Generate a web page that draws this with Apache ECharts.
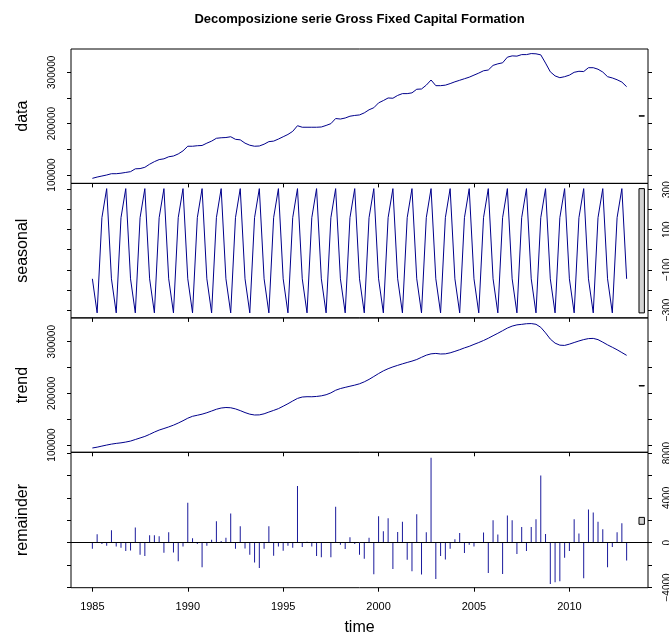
<!DOCTYPE html>
<html>
<head>
<meta charset="utf-8">
<script src="https://cdn.jsdelivr.net/npm/echarts@6/dist/echarts.min.js"></script>
<style>
  html, body { margin: 0; padding: 0; background: #fff; }
  #chart { width: 669px; height: 638px; }
</style>
</head>
<body>
<div id="chart"></div>
<script>
// Quarterly series, 1985 Q1 - 2013 Q1
const START_YEAR = 1985;
const PER_YEAR = 4;

// Observed Gross Fixed Capital Formation
const GFCF_DATA = [
  93500, 96000, 98000, 100000,
  102500, 102500, 103500, 105000,
  106500, 112000, 112500, 115000,
  121000, 126000, 130000, 131500,
  135500, 137000, 141000, 147000,
  156000, 156000, 157000, 157500,
  162000, 166000, 171500, 172500,
  173000, 174500, 169500, 168500,
  162000, 158000, 156000, 156500,
  160000, 165000, 166000, 170000,
  174500, 179000, 185000, 196000,
  193000, 193000, 193000, 193000,
  193500, 196500, 200000, 210000,
  209000, 211000, 214500, 216000,
  217000, 221000, 227000, 231000,
  240500, 245000, 250000, 249500,
  255000, 258500, 258500, 260000,
  267000, 267500, 275000, 285000,
  274000, 274000, 275000, 278000,
  281500, 284500, 287500, 290500,
  294500, 298500, 303000, 304500,
  313500, 316500, 318500, 329500,
  332000, 331500, 334500, 334500,
  336500, 336000, 334000, 318000,
  301000, 293000, 289500, 291500,
  294500, 300000, 302000, 301500,
  309000, 309000, 306000, 300500,
  291500, 289000, 285500, 281000,
  272000
];

// Seasonal component (periodic)
const SEASONAL = [
  -145, -315, 160, 305,  -145, -315, 160, 305,  -145, -315, 160, 305,  -145, -315, 160, 305,
  -145, -315, 160, 305,  -145, -315, 160, 305,  -145, -315, 160, 305,  -145, -315, 160, 305,
  -145, -315, 160, 305,  -145, -315, 160, 305,  -145, -315, 160, 305,  -145, -315, 160, 305,
  -145, -315, 160, 305,  -145, -315, 160, 305,  -145, -315, 160, 305,  -145, -315, 160, 305,
  -145, -315, 160, 305,  -145, -315, 160, 305,  -145, -315, 160, 305,  -145, -315, 160, 305,
  -145, -315, 160, 305,  -145, -315, 160, 305,  -145, -315, 160, 305,  -145, -315, 160, 305,
  -145, -315, 160, 305,  -145, -315, 160, 305,  -145, -315, 160, 305,  -145, -315, 160, 305,
  -145
];

// Trend component
const TREND = [
  94200, 95800, 97900, 99900,
  101700, 103100, 104200, 105700,
  107600, 110600, 113600, 116600,
  120600, 125000, 128900, 131900,
  135000, 138400, 142500, 147000,
  151900, 155600, 157600, 159700,
  162500, 165800, 169200, 171600,
  172600, 172100, 169900, 166600,
  162800, 159700, 158100, 158300,
  160400, 163800, 167000, 170400,
  175100, 179900, 185200, 190200,
  192900, 193500, 193400, 194000,
  195200, 197300, 200900, 206000,
  209300, 211600, 213800, 215900,
  218500, 222300, 227000, 232600,
  238300, 243500, 247700, 251200,
  254200, 257100, 259800, 262400,
  265500, 269800, 273900, 276500,
  277300, 276200, 276500, 278400,
  281300, 284500, 288000, 291000,
  294800, 298400, 302300, 306700,
  311600, 316300, 321300, 326400,
  330200, 332600, 333600, 334800,
  335100, 333700, 327800, 317100,
  305100, 297200, 293300, 292800,
  295300, 298400, 301400, 304100,
  306000, 306400, 304000, 299100,
  293900, 289200, 284400, 279000,
  273600
];

// Remainder component
const REMAINDER = [
  -540, 750, -120, -270,
  1110, -330, -450, -750,
  -690, 1350, -1080, -1200,
  660, 660, 570, -900,
  930, -870, -1650, -330,
  3570, 390, -120, -2190,
  -270, 270, 1920, 150,
  450, 2610, -540, 1470,
  -510, -1080, -1770, -2250,
  -540, 1470, -1170, -330,
  -720, -270, -450, 5070,
  -390, 90, -330, -1200,
  -1290, 30, -1290, 3210,
  -180, -570, 480, -120,
  -1080, -1440, 450, -2820,
  2370, 1020, 2190, -2340,
  960, 1860, -1530, -2550,
  2550, -2850, 930, 7590,
  -3240, -1200, -1500, -540,
  300, 870, -930, -180,
  -330, 60, 900, -2700,
  2010, 720, -2790, 2430,
  2010, -1020, 1410, -750,
  1410, 2100, 6000, 780,
  -3690, -3540, -3450, -1350,
  -750, 2100, 810, -3180,
  2970, 2700, 1860, 1200,
  -2190, -390, 930, 1740,
  -1590
];

// Axis ticks and labels
const YEAR_TICKS = [1985, 1990, 1995, 2000, 2005, 2010];
const LEVEL_TICKS = [100000, 150000, 200000, 250000, 300000];
const LEVEL_LABELS = [100000, 200000, 300000];
const SEASONAL_TICKS = [-300, -200, -100, 0, 100, 200, 300];
const SEASONAL_LABELS = [-300, -100, 100, 300];
const REMAINDER_TICKS = [-4000, -2000, 0, 2000, 4000, 6000, 8000];
const REMAINDER_LABELS = [-4000, 0, 4000, 8000];
const PANEL_NAMES = ['data', 'seasonal', 'trend', 'remainder'];

const TITLE = 'Decomposizione serie Gross Fixed Capital Formation';

// ---- layout and styling ----
const FONT = '"Liberation Sans", Arial, Helvetica, sans-serif';
const LINE_COLOR = '#00008B';
const X_EXTENT = [1983.88, 2014.12];
const GRID_LEFT = 71;
const GRID_WIDTH = 577;
const GRID_TOPS = [49, 183.4, 317.9, 452.3];
const GRID_HEIGHTS = [134.4, 134.5, 134.4, 135.4];

const panels = [
  { values: GFCF_DATA, extent: [83640, 345400], ticks: LEVEL_TICKS, labels: LEVEL_LABELS, labelSide: 'left' },
  { values: SEASONAL, extent: [-340, 331], ticks: SEASONAL_TICKS, labels: SEASONAL_LABELS, labelSide: 'right' },
  { values: TREND, extent: [85870, 346080], ticks: LEVEL_TICKS, labels: LEVEL_LABELS, labelSide: 'left' },
  { values: REMAINDER, extent: [-4020, 8072], ticks: REMAINDER_TICKS, labels: REMAINDER_LABELS, labelSide: 'right' }
];

const time = GFCF_DATA.map((_, k) => START_YEAR + k / PER_YEAR);
const pairs = vals => vals.map((v, k) => [time[k], v]);
const fmt = v => String(v).replace('-', '\u2212');

// Range bars: same absolute length in every panel (smallest component range)
const ranges = panels.map(p => [Math.min(...p.values), Math.max(...p.values)]);
const barLen = Math.min(...ranges.map(r => r[1] - r[0]));
const dx = (X_EXTENT[1] - X_EXTENT[0]) / 64;

const grids = panels.map((p, i) => ({
  left: GRID_LEFT, width: GRID_WIDTH, top: GRID_TOPS[i], height: GRID_HEIGHTS[i],
  containLabel: false, outerBoundsMode: 'none',
  show: true, borderColor: '#000', borderWidth: 1, backgroundColor: 'transparent'
}));

const xAxes = panels.map((p, i) => ({
  type: 'value', gridIndex: i, min: X_EXTENT[0], max: X_EXTENT[1], position: 'bottom',
  axisLine: { show: false, onZero: false }, splitLine: { show: false },
  axisTick: { show: true, length: 4, customValues: YEAR_TICKS, lineStyle: { color: '#000', width: 1 } },
  axisLabel: { show: i === panels.length - 1, customValues: YEAR_TICKS, margin: 14,
               fontSize: 11, color: '#000', fontFamily: FONT, formatter: v => String(v) },
  name: i === panels.length - 1 ? 'time' : '',
  nameLocation: 'middle', nameGap: 32,
  nameTextStyle: { fontSize: 16, color: '#000', fontFamily: FONT }
}));

const yAxes = [];
panels.forEach((p, i) => {
  ['left', 'right'].forEach(side => {
    yAxes.push({
      type: 'value', gridIndex: i, position: side, min: p.extent[0], max: p.extent[1],
      axisLine: { show: false, onZero: false }, splitLine: { show: false },
      axisTick: { show: true, length: 4, customValues: p.ticks, lineStyle: { color: '#000', width: 1 } },
      axisLabel: { show: p.labelSide === side, customValues: p.labels, rotate: 90,
                   margin: 14, fontSize: 10, color: '#000',
                   fontFamily: FONT, formatter: fmt },
      name: side === 'left' ? PANEL_NAMES[i] : '',
      nameLocation: 'middle', nameRotate: 90, nameGap: 40,
      nameTextStyle: { fontSize: 16, color: '#000', fontFamily: FONT }
    });
  });
});

const series = [];
[0, 1, 2].forEach(i => {
  series.push({
    type: 'line', xAxisIndex: i, yAxisIndex: 2 * i, data: pairs(panels[i].values),
    showSymbol: false, symbol: 'none', silent: true,
    lineStyle: { color: LINE_COLOR, width: 1 }
  });
});
series.push({
  type: 'bar', xAxisIndex: 3, yAxisIndex: 6, data: pairs(REMAINDER),
  barWidth: 1, silent: true, itemStyle: { color: '#1a1a9c' },
  markLine: {
    silent: true, symbol: ['none', 'none'], label: { show: false },
    lineStyle: { color: '#000', width: 1, type: 'solid' },
    data: [{ yAxis: 0 }]
  }
});
panels.forEach((p, i) => {
  const mid = (ranges[i][0] + ranges[i][1]) / 2;
  series.push({
    type: 'custom', xAxisIndex: i, yAxisIndex: 2 * i, silent: true, clip: false,
    encode: { x: [0, 1], y: [2, 3] },
    data: [[X_EXTENT[1] - dx, X_EXTENT[1] - 0.4 * dx, mid - barLen / 2, mid + barLen / 2]],
    renderItem: (params, api) => {
      const a = api.coord([api.value(0), api.value(3)]);
      const b = api.coord([api.value(1), api.value(2)]);
      return {
        type: 'rect',
        shape: { x: a[0], y: a[1], width: b[0] - a[0], height: b[1] - a[1] },
        style: { fill: '#d3d3d3', stroke: '#000', lineWidth: 1 }
      };
    }
  });
});

const chart = echarts.init(document.getElementById('chart'), null, { renderer: 'canvas' });
chart.setOption({
  animation: false,
  backgroundColor: '#fff',
  graphic: [{
    type: 'text', x: GRID_LEFT + GRID_WIDTH / 2, y: 19.5,
    style: { text: TITLE, fill: '#000', font: 'bold 13px ' + FONT,
             textAlign: 'center', textVerticalAlign: 'middle' }
  }],
  grid: grids,
  xAxis: xAxes,
  yAxis: yAxes,
  series: series
});
</script>
</body>
</html>
